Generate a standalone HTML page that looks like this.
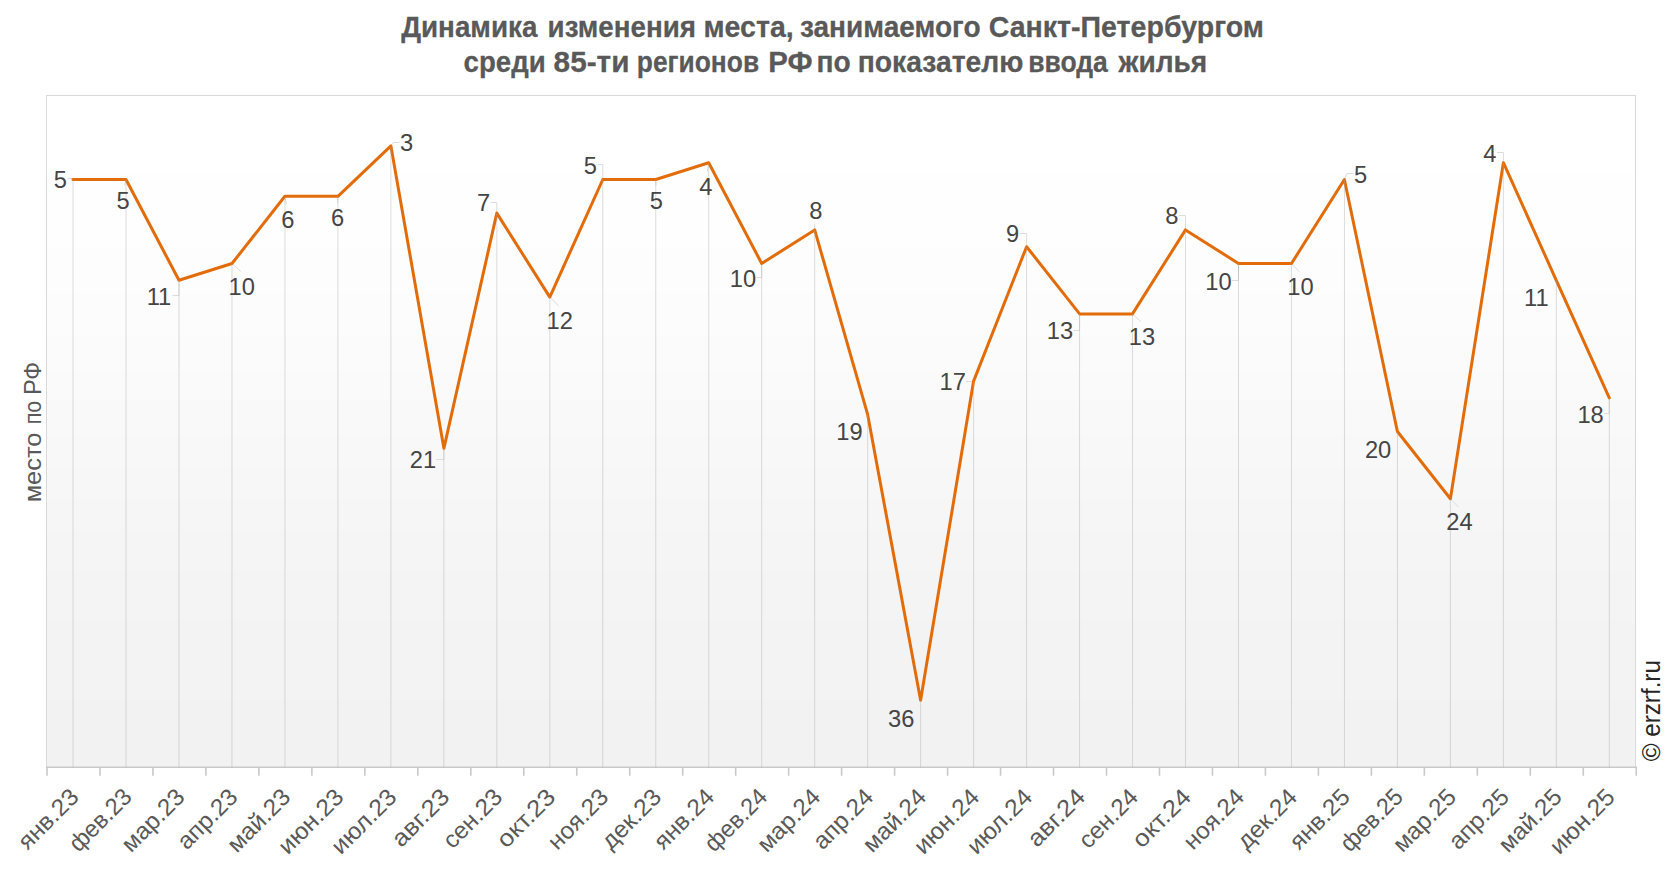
<!DOCTYPE html>
<html lang="ru"><head><meta charset="utf-8"><title>Динамика изменения места, занимаемого Санкт-Петербургом</title>
<style>html,body{margin:0;padding:0;background:#fff;}body{width:1666px;height:872px;overflow:hidden;}svg{display:block;}text{font-family:"Liberation Sans",sans-serif;}.t{font-weight:bold;font-size:29.30px;fill:#595959;stroke:#595959;stroke-width:0.27px;stroke-linejoin:round;}.ax{font-size:23.80px;fill:#595959;}.dl{font-size:23.70px;fill:#454545;text-anchor:middle;}.cp{font-family:"Liberation Sans",sans-serif;font-size:25.3px;fill:#262626;}</style></head><body>
<svg width="1666" height="872" viewBox="0 0 1666 872">
<defs><linearGradient id="pg" x1="0" y1="0" x2="0" y2="1"><stop offset="0" stop-color="#ffffff"/><stop offset="0.1168" stop-color="#ffffff"/><stop offset="0.1168" stop-color="#fefefe"/><stop offset="0.2284" stop-color="#fefefe"/><stop offset="0.2284" stop-color="#fdfdfd"/><stop offset="0.2954" stop-color="#fdfdfd"/><stop offset="0.2954" stop-color="#fcfcfc"/><stop offset="0.3579" stop-color="#fcfcfc"/><stop offset="0.3579" stop-color="#fbfbfb"/><stop offset="0.4115" stop-color="#fbfbfb"/><stop offset="0.4115" stop-color="#fafafa"/><stop offset="0.4546" stop-color="#fafafa"/><stop offset="0.4546" stop-color="#f9f9f9"/><stop offset="0.5052" stop-color="#f9f9f9"/><stop offset="0.5052" stop-color="#f8f8f8"/><stop offset="0.5528" stop-color="#f8f8f8"/><stop offset="0.5528" stop-color="#f7f7f7"/><stop offset="0.5990" stop-color="#f7f7f7"/><stop offset="0.5990" stop-color="#f6f6f6"/><stop offset="0.6466" stop-color="#f6f6f6"/><stop offset="0.6466" stop-color="#f5f5f5"/><stop offset="0.7091" stop-color="#f5f5f5"/><stop offset="0.7091" stop-color="#f4f4f4"/><stop offset="0.7790" stop-color="#f4f4f4"/><stop offset="0.7790" stop-color="#f3f3f3"/><stop offset="0.9010" stop-color="#f3f3f3"/><stop offset="0.9010" stop-color="#f2f2f2"/><stop offset="1" stop-color="#f2f2f2"/></linearGradient></defs>
<rect x="0" y="0" width="1666" height="872" fill="#ffffff"/>
<!-- plot area -->
<rect x="46.5" y="95.5" width="1589.0" height="672.0" fill="url(#pg)" stroke="#d9d9d9" stroke-width="1"/>
<!-- category axis -->
<path d="M46.0 767.3H1637" stroke="#c9c9c9" stroke-width="1.5" fill="none"/>
<path d="M47.00 767V775.7M99.97 767V775.7M152.95 767V775.7M205.93 767V775.7M258.90 767V775.7M311.88 767V775.7M364.85 767V775.7M417.82 767V775.7M470.80 767V775.7M523.78 767V775.7M576.75 767V775.7M629.73 767V775.7M682.70 767V775.7M735.68 767V775.7M788.65 767V775.7M841.62 767V775.7M894.60 767V775.7M947.58 767V775.7M1000.55 767V775.7M1053.53 767V775.7M1106.50 767V775.7M1159.48 767V775.7M1212.45 767V775.7M1265.42 767V775.7M1318.40 767V775.7M1371.38 767V775.7M1424.35 767V775.7M1477.33 767V775.7M1530.30 767V775.7M1583.28 767V775.7M1636.25 767V775.7" stroke="#c9c9c9" stroke-width="1.6" fill="none"/>
<!-- leader lines -->
<path d="M67.5 178.5H73.0V179.5M126.0 179.5L124.6 185.4M172.5 295.5H179.0V280.3M232.0 263.5L240.8 271.4M284.9 196.3L286.4 204.3M337.9 196.3L337.8 203.1M399.6 142.5H393.4L390.9 145.9M436.4 459.5H443.9V448.3M490.6 202.5H496.8V213.1M549.8 297.1L558.8 306.0M597.5 164.5H602.8V179.5M655.8 179.5L656.0 185.4M708.7 162.7L707.3 171.5M756.5 277.5H761.7V263.5M814.7 229.9V223.7M966.3 381.5H973.6V381.1M1019.8 233.5H1026.6V246.7M1073.4 330.5H1079.6V313.9M1132.5 313.9L1140.9 321.7M1178.9 215.5H1185.5V229.9M1232.0 280.5H1238.5V263.5M1291.5 263.5L1299.4 271.7M1353.4 173.5H1346.9L1344.4 179.5M1450.4 498.7L1458.5 507.0M1496.9 152.5H1503.4V162.7M1604.1 413.5H1609.3V397.9" stroke="#dcdcdc" stroke-width="1" fill="none"/>
<!-- series -->
<polyline points="73.0,179.5 126.0,179.5 179.0,280.3 232.0,263.5 284.9,196.3 337.9,196.3 390.9,145.9 443.9,448.3 496.8,213.1 549.8,297.1 602.8,179.5 655.8,179.5 708.7,162.7 761.7,263.5 814.7,229.9 867.7,414.7 920.6,700.3 973.6,381.1 1026.6,246.7 1079.6,313.9 1132.5,313.9 1185.5,229.9 1238.5,263.5 1291.5,263.5 1344.4,179.5 1397.4,431.5 1450.4,498.7 1503.4,162.7 1556.3,280.3 1609.3,397.9" fill="none" stroke="#e36c0a" stroke-width="3" stroke-linejoin="round" stroke-linecap="round"/>
<!-- drop lines -->
<path d="M73.04 179.5V767.5M126.01 179.5V767.5M178.99 280.3V767.5M231.96 263.5V767.5M284.94 196.3V767.5M337.91 196.3V767.5M390.89 145.9V767.5M443.86 448.3V767.5M496.84 213.1V767.5M549.81 297.1V767.5M602.79 179.5V767.5M655.76 179.5V767.5M708.74 162.7V767.5M761.71 263.5V767.5M814.69 229.9V767.5M867.66 414.7V767.5M920.64 700.3V767.5M973.61 381.1V767.5M1026.59 246.7V767.5M1079.56 313.9V767.5M1132.54 313.9V767.5M1185.51 229.9V767.5M1238.49 263.5V767.5M1291.46 263.5V767.5M1344.44 179.5V767.5M1397.41 431.5V767.5M1450.39 498.7V767.5M1503.36 162.7V767.5M1556.34 280.3V767.5M1609.31 397.9V767.5" stroke="#a6a6a6" stroke-opacity="0.39" stroke-width="1" fill="none"/>
<!-- data labels -->
<text class="dl" id="dl0" x="60.4" y="187.8">5</text>
<text class="dl" id="dl1" x="123.2" y="208.6">5</text>
<text class="dl" id="dl2" x="159.0" y="304.5">11</text>
<text class="dl" id="dl3" x="241.8" y="294.6">10</text>
<text class="dl" id="dl4" x="287.9" y="227.5">6</text>
<text class="dl" id="dl5" x="337.7" y="226.3">6</text>
<text class="dl" id="dl6" x="406.7" y="151.3">3</text>
<text class="dl" id="dl7" x="422.9" y="468.1">21</text>
<text class="dl" id="dl8" x="483.5" y="211.1">7</text>
<text class="dl" id="dl9" x="559.8" y="329.2">12</text>
<text class="dl" id="dl10" x="590.4" y="174.0">5</text>
<text class="dl" id="dl11" x="656.3" y="208.6">5</text>
<text class="dl" id="dl12" x="705.9" y="194.7">4</text>
<text class="dl" id="dl13" x="743.0" y="286.8">10</text>
<text class="dl" id="dl14" x="815.8" y="218.5">8</text>
<text class="dl" id="dl15" x="849.5" y="439.9">19</text>
<text class="dl" id="dl16" x="901.3" y="726.9">36</text>
<text class="dl" id="dl17" x="952.8" y="390.2">17</text>
<text class="dl" id="dl18" x="1012.7" y="242.1">9</text>
<text class="dl" id="dl19" x="1059.9" y="339.0">13</text>
<text class="dl" id="dl20" x="1141.9" y="344.9">13</text>
<text class="dl" id="dl21" x="1171.8" y="224.4">8</text>
<text class="dl" id="dl22" x="1218.5" y="290.0">10</text>
<text class="dl" id="dl23" x="1300.4" y="294.9">10</text>
<text class="dl" id="dl24" x="1360.5" y="182.9">5</text>
<text class="dl" id="dl25" x="1378.1" y="458.2">20</text>
<text class="dl" id="dl26" x="1459.5" y="530.2">24</text>
<text class="dl" id="dl27" x="1489.8" y="161.9">4</text>
<text class="dl" id="dl28" x="1536.4" y="306.2">11</text>
<text class="dl" id="dl29" x="1590.6" y="422.9">18</text>
<!-- category labels -->
<text class="ax" id="ax0" text-anchor="end" textLength="74.3" lengthAdjust="spacingAndGlyphs" transform="translate(80.1 798.4) rotate(-45)">янв.23</text>
<text class="ax" id="ax1" text-anchor="end" textLength="77.4" lengthAdjust="spacingAndGlyphs" transform="translate(133.1 798.4) rotate(-45)">фев.23</text>
<text class="ax" id="ax2" text-anchor="end" textLength="77.9" lengthAdjust="spacingAndGlyphs" transform="translate(186.1 798.4) rotate(-45)">мар.23</text>
<text class="ax" id="ax3" text-anchor="end" textLength="74.0" lengthAdjust="spacingAndGlyphs" transform="translate(239.1 798.4) rotate(-45)">апр.23</text>
<text class="ax" id="ax4" text-anchor="end" textLength="78.3" lengthAdjust="spacingAndGlyphs" transform="translate(292.0 798.4) rotate(-45)">май.23</text>
<text class="ax" id="ax5" text-anchor="end" textLength="80.9" lengthAdjust="spacingAndGlyphs" transform="translate(345.0 798.4) rotate(-45)">июн.23</text>
<text class="ax" id="ax6" text-anchor="end" textLength="80.8" lengthAdjust="spacingAndGlyphs" transform="translate(398.0 798.4) rotate(-45)">июл.23</text>
<text class="ax" id="ax7" text-anchor="end" textLength="70.4" lengthAdjust="spacingAndGlyphs" transform="translate(451.0 798.4) rotate(-45)">авг.23</text>
<text class="ax" id="ax8" text-anchor="end" textLength="72.7" lengthAdjust="spacingAndGlyphs" transform="translate(503.9 798.4) rotate(-45)">сен.23</text>
<text class="ax" id="ax9" text-anchor="end" textLength="71.8" lengthAdjust="spacingAndGlyphs" transform="translate(556.9 798.4) rotate(-45)">окт.23</text>
<text class="ax" id="ax10" text-anchor="end" textLength="74.3" lengthAdjust="spacingAndGlyphs" transform="translate(609.9 798.4) rotate(-45)">ноя.23</text>
<text class="ax" id="ax11" text-anchor="end" textLength="73.8" lengthAdjust="spacingAndGlyphs" transform="translate(662.9 798.4) rotate(-45)">дек.23</text>
<text class="ax" id="ax12" text-anchor="end" textLength="74.3" lengthAdjust="spacingAndGlyphs" transform="translate(715.8 798.4) rotate(-45)">янв.24</text>
<text class="ax" id="ax13" text-anchor="end" textLength="77.4" lengthAdjust="spacingAndGlyphs" transform="translate(768.8 798.4) rotate(-45)">фев.24</text>
<text class="ax" id="ax14" text-anchor="end" textLength="77.9" lengthAdjust="spacingAndGlyphs" transform="translate(821.8 798.4) rotate(-45)">мар.24</text>
<text class="ax" id="ax15" text-anchor="end" textLength="74.0" lengthAdjust="spacingAndGlyphs" transform="translate(874.8 798.4) rotate(-45)">апр.24</text>
<text class="ax" id="ax16" text-anchor="end" textLength="78.3" lengthAdjust="spacingAndGlyphs" transform="translate(927.7 798.4) rotate(-45)">май.24</text>
<text class="ax" id="ax17" text-anchor="end" textLength="80.9" lengthAdjust="spacingAndGlyphs" transform="translate(980.7 798.4) rotate(-45)">июн.24</text>
<text class="ax" id="ax18" text-anchor="end" textLength="80.8" lengthAdjust="spacingAndGlyphs" transform="translate(1033.7 798.4) rotate(-45)">июл.24</text>
<text class="ax" id="ax19" text-anchor="end" textLength="70.4" lengthAdjust="spacingAndGlyphs" transform="translate(1086.7 798.4) rotate(-45)">авг.24</text>
<text class="ax" id="ax20" text-anchor="end" textLength="72.7" lengthAdjust="spacingAndGlyphs" transform="translate(1139.6 798.4) rotate(-45)">сен.24</text>
<text class="ax" id="ax21" text-anchor="end" textLength="71.8" lengthAdjust="spacingAndGlyphs" transform="translate(1192.6 798.4) rotate(-45)">окт.24</text>
<text class="ax" id="ax22" text-anchor="end" textLength="74.3" lengthAdjust="spacingAndGlyphs" transform="translate(1245.6 798.4) rotate(-45)">ноя.24</text>
<text class="ax" id="ax23" text-anchor="end" textLength="73.8" lengthAdjust="spacingAndGlyphs" transform="translate(1298.6 798.4) rotate(-45)">дек.24</text>
<text class="ax" id="ax24" text-anchor="end" textLength="74.3" lengthAdjust="spacingAndGlyphs" transform="translate(1351.5 798.4) rotate(-45)">янв.25</text>
<text class="ax" id="ax25" text-anchor="end" textLength="77.4" lengthAdjust="spacingAndGlyphs" transform="translate(1404.5 798.4) rotate(-45)">фев.25</text>
<text class="ax" id="ax26" text-anchor="end" textLength="77.9" lengthAdjust="spacingAndGlyphs" transform="translate(1457.5 798.4) rotate(-45)">мар.25</text>
<text class="ax" id="ax27" text-anchor="end" textLength="74.0" lengthAdjust="spacingAndGlyphs" transform="translate(1510.5 798.4) rotate(-45)">апр.25</text>
<text class="ax" id="ax28" text-anchor="end" textLength="78.3" lengthAdjust="spacingAndGlyphs" transform="translate(1563.4 798.4) rotate(-45)">май.25</text>
<text class="ax" id="ax29" text-anchor="end" textLength="80.9" lengthAdjust="spacingAndGlyphs" transform="translate(1616.4 798.4) rotate(-45)">июн.25</text>
<!-- axis title -->
<text class="ax" id="yt" style="font-size:24.4px" transform="translate(40.9 502.3) rotate(-90)"><tspan x="0.0" textLength="69.6" lengthAdjust="spacingAndGlyphs">место</tspan> <tspan x="78.0" textLength="23.6" lengthAdjust="spacingAndGlyphs">по</tspan> <tspan x="107.2" textLength="33.3" lengthAdjust="spacingAndGlyphs">РФ</tspan></text>
<!-- copyright -->
<text class="cp" id="cp" textLength="101.2" lengthAdjust="spacingAndGlyphs" transform="translate(1659.6 761.3) rotate(-90)">© erzrf.ru</text>
<!-- title -->
<text class="t" id="t1" y="37.2"><tspan x="401.2" textLength="136.2" lengthAdjust="spacingAndGlyphs">Динамика</tspan> <tspan x="547.6" textLength="148.3" lengthAdjust="spacingAndGlyphs">изменения</tspan> <tspan x="703.5" textLength="90.2" lengthAdjust="spacingAndGlyphs">места,</tspan> <tspan x="799.9" textLength="180.7" lengthAdjust="spacingAndGlyphs">занимаемого</tspan> <tspan x="988.7" textLength="275.2" lengthAdjust="spacingAndGlyphs">Санкт-Петербургом</tspan></text>
<text class="t" id="t2" y="71.9"><tspan x="463.6" textLength="82.1" lengthAdjust="spacingAndGlyphs">среди</tspan> <tspan x="553.6" textLength="75.9" lengthAdjust="spacingAndGlyphs">85-ти</tspan> <tspan x="636.8" textLength="122.3" lengthAdjust="spacingAndGlyphs">регионов</tspan> <tspan x="768.3" textLength="44.3" lengthAdjust="spacingAndGlyphs">РФ</tspan> <tspan x="816.4" textLength="34.2" lengthAdjust="spacingAndGlyphs">по</tspan> <tspan x="857.7" textLength="165.8" lengthAdjust="spacingAndGlyphs">показателю</tspan> <tspan x="1028.2" textLength="79.6" lengthAdjust="spacingAndGlyphs">ввода</tspan> <tspan x="1118.5" textLength="88.7" lengthAdjust="spacingAndGlyphs">жилья</tspan></text>
</svg></body></html>
